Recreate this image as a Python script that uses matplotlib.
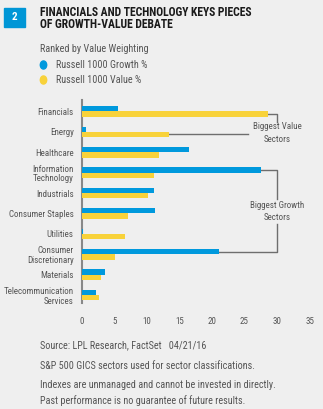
import matplotlib
matplotlib.use("Agg")
import matplotlib.pyplot as plt
from matplotlib.patches import Rectangle, Circle
from matplotlib import font_manager as fm

categories = ["Financials", "Energy", "Healthcare", "Information\nTechnology", "Industrials",
              "Consumer Staples", "Utilities", "Consumer\nDiscretionary", "Materials",
              "Telecommunication\nServices"]
growth = [5.6, 0.6, 16.4, 27.5, 11.1, 11.2, 0.1, 21.1, 3.6, 2.2]
value = [28.6, 13.4, 11.9, 11.0, 10.1, 7.0, 6.6, 5.1, 2.9, 2.6]
xticks = [0, 5, 10, 15, 20, 25, 30, 35]

BLUE = "#0099DD"
YELLOW = "#F8D23A"
BG = "#EFEFEF"
GREY = "#555555"
LINE = "#6E6E6E"

names = {f.name for f in fm.fontManager.ttflist}
base = "Roboto"
for cand in ["Liberation Sans Narrow", "Roboto Condensed", "Open Sans Condensed"]:
    if cand in names:
        base = cand
        break
FONT = [base, "DejaVu Sans"]
plt.rcParams["font.family"] = FONT

W, H = 323, 409
fig = plt.figure(figsize=(W / 100, H / 100), dpi=100, facecolor=BG)
renderer = fig.canvas.get_renderer()


def fit_size(s, target_px, weight="normal"):
    t = fig.text(0, 0, s, fontsize=10, fontweight=weight)
    w = t.get_window_extent(renderer).width
    t.remove()
    return 10 * target_px / w


BODY = fit_size("Indexes are unmanaged and cannot be invested in directly.", 232)
LAB = fit_size("Consumer Staples", 64)
TITLE = fit_size("FINANCIALS AND TECHNOLOGY KEYS PIECES", 212, "bold")


def fx(px):
    return px / W


def fy(py):
    return 1 - py / H


# axes placement (pixels)
ax_left, ax_right, ax_top, ax_bot = 82, 309.5, 100, 303
ax = fig.add_axes([fx(ax_left), fy(ax_bot), fx(ax_right - ax_left), (ax_bot - ax_top) / H])
ax.set_facecolor(BG)

ys = list(range(len(categories)))
bh = 0.26
ax.barh([y - bh / 2 for y in ys], growth, height=bh, color=BLUE, zorder=3)
ax.barh([y + bh / 2 for y in ys], value, height=bh, color=YELLOW, zorder=3)

ax.set_xlim(0, 35)
ax.set_ylim(9.39, -0.56)
ax.set_xticks(xticks)
ax.set_xticklabels([str(t) for t in xticks], fontsize=LAB, color=GREY)
ax.set_yticks(ys)
ax.set_yticklabels(categories, fontsize=LAB, color=GREY, linespacing=1.1)
ax.tick_params(axis="both", length=0)
ax.tick_params(axis="x", pad=10)
ax.tick_params(axis="y", pad=6)
for s in ["top", "right", "bottom"]:
    ax.spines[s].set_visible(False)
ax.spines["left"].set_color("#888888")
ax.spines["left"].set_linewidth(1.5)

# annotations
lk = dict(color=LINE, lw=1.0, clip_on=False, zorder=2)
yv0 = 0 + bh / 2
ax.plot([value[0], 30, 30], [yv0, yv0, 0.5], **lk)
yv1 = 1 + bh / 2
ax.plot([value[1], 25.6], [yv1, yv1], **lk)
ax.text(30, 1.05, "Biggest Value\nSectors", ha="center", va="center", fontsize=LAB,
        color=GREY, linespacing=1.5, clip_on=False)

yg3 = 3 - bh / 2
yg7 = 7 - bh / 2
ax.plot([growth[3], 30, 30], [yg3, yg3, 4.3], **lk)
ax.plot([30, 30, growth[7]], [5.5, yg7, yg7], **lk)
ax.text(30, 4.9, "Biggest Growth\nSectors", ha="center", va="center", fontsize=LAB,
        color=GREY, linespacing=1.5, clip_on=False)

# header
fig.patches.append(Rectangle((fx(4), fy(27)), fx(21), 19 / H, transform=fig.transFigure,
                             color="#0096D6"))
fig.text(fx(14.5), fy(17.5), "2", ha="center", va="center", fontsize=8, color="white",
         fontweight="bold")
fig.text(fx(40), fy(12), "FINANCIALS AND TECHNOLOGY KEYS PIECES", ha="left", va="center",
         fontsize=TITLE, fontweight="bold", color="#1A1A1A")
fig.text(fx(40), fy(24.5), "OF GROWTH-VALUE DEBATE", ha="left", va="center",
         fontsize=TITLE, fontweight="bold", color="#1A1A1A")

fig.text(fx(40), fy(49.5), "Ranked by Value Weighting", ha="left", va="center",
         fontsize=BODY, color=GREY)
for py, col, lab in [(65, BLUE, "Russell 1000 Growth %"), (80, YELLOW, "Russell 1000 Value %")]:
    fig.patches.append(Circle((fx(43.5), fy(py)), 3.2 / W, transform=fig.transFigure,
                              color=col))
    fig.text(fx(56), fy(py), lab, ha="left", va="center", fontsize=BODY, color=GREY)

# footnotes
fig.text(fx(40), fy(345), "Source: LPL Research, FactSet   04/21/16", ha="left", va="center",
         fontsize=BODY, color=GREY)
fig.text(fx(40), fy(366), "S&P 500 GICS sectors used for sector classifications.", ha="left",
         va="center", fontsize=BODY, color=GREY)
fig.text(fx(40), fy(385), "Indexes are unmanaged and cannot be invested in directly.",
         ha="left", va="center", fontsize=BODY, color=GREY)
fig.text(fx(40), fy(401), "Past performance is no guarantee of future results.", ha="left",
         va="center", fontsize=BODY, color=GREY)

fig.savefig("out.png", dpi=100, facecolor=BG)
